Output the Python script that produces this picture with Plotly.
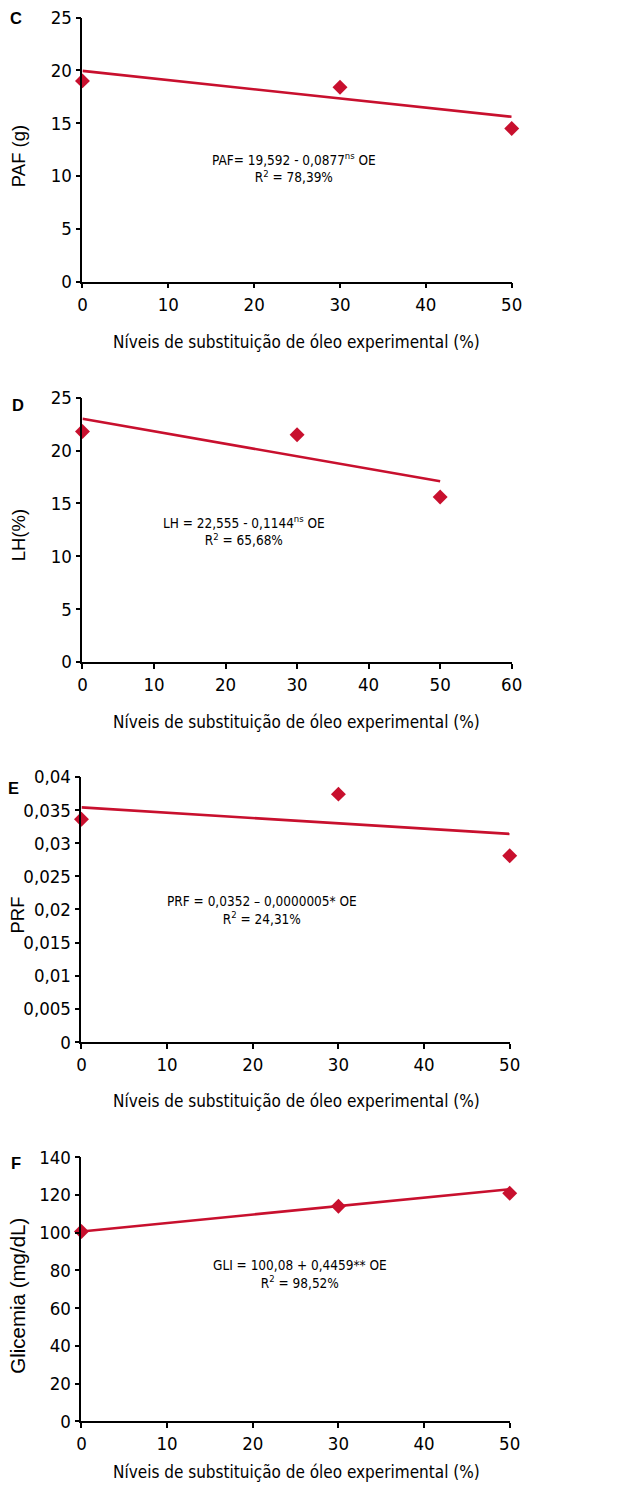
import plotly.graph_objects as go

W, H = 622, 1492

# ---------------- data ----------------
oe_levels = [0, 30, 50]
xtitle = "Níveis de substituição de óleo experimental (%)"

paf_values = [19.0, 18.4, 14.5]
paf_fit_x = [0, 50]
paf_fit_y = [19.95, 15.6]

lh_values = [21.8, 21.5, 15.6]
lh_fit_x = [0, 50]
lh_fit_y = [23.0, 17.1]

prf_values = [0.0336, 0.0374, 0.0281]
prf_fit_x = [0, 50]
prf_fit_y = [0.0354, 0.0314]

gli_values = [100.6, 113.9, 120.8]
gli_fit_x = [0, 50]
gli_fit_y = [100.6, 123.0]

prf_ticks = [0, 0.005, 0.01, 0.015, 0.02, 0.025, 0.03, 0.035, 0.04]
prf_ticktext = ["0", "0,005", "0,01", "0,015", "0,02", "0,025", "0,03", "0,035", "0,04"]

RED = "#C8102E"
FONT = "DejaVu Sans Condensed, Liberation Sans Narrow, Arial Narrow, sans-serif"
FONT2 = "Liberation Sans, Arial, sans-serif"

# target positions (pixels in the picture)
panels = [
    dict(letter="C", ytitle="PAF (g)", ys=18.5, y=paf_values, fx=paf_fit_x, fy=paf_fit_y,
         xr=[0, 50], xd=10, yr=[0, 25], yd=5, px=(82, 512), py=(18, 282),
         eq="PAF= 19,592 - 0,0877<sup>ns</sup> OE<br>R<sup>2</sup> = 78,39%", eqx=294, eqy=168,
         lx=15, ly=18, ytx=18, yty=157, xty=342),
    dict(letter="D", ytitle="LH(%)", ys=18.5, y=lh_values, fx=lh_fit_x, fy=lh_fit_y,
         xr=[0, 60], xd=10, yr=[0, 25], yd=5, px=(82, 512), py=(398, 662),
         eq="LH = 22,555 - 0,1144<sup>ns</sup> OE<br>R<sup>2</sup> = 65,68%", eqx=244, eqy=531,
         lx=17, ly=405, ytx=18, yty=536, xty=722),
    dict(letter="E", ytitle="PRF", ys=18.5, y=prf_values, fx=prf_fit_x, fy=prf_fit_y,
         xr=[0, 50], xd=10, yr=[0, 0.04], yd=0.005, px=(81, 510), py=(777, 1042),
         eq="PRF = 0,0352 – 0,0000005* OE<br>R<sup>2</sup> = 24,31%", eqx=262, eqy=910,
         lx=13, ly=788, ytx=17, yty=915, xty=1101),
    dict(letter="F", ytitle="Glicemia (mg/dL)", ys=20.5, y=gli_values, fx=gli_fit_x, fy=gli_fit_y,
         xr=[0, 50], xd=10, yr=[0, 140], yd=20, px=(81, 510), py=(1157, 1421),
         eq="GLI = 100,08 + 0,4459** OE<br>R<sup>2</sup> = 98,52%", eqx=300, eqy=1274,
         lx=15, ly=1163, ytx=17, yty=1296, xty=1478),
]

# observed mapping page -> picture: sx = 0.976*px + 4.4 ; sy = 0.9854*py + 11.5
AX, BX = 0.976, 4.4
AY, BY = 0.9854, 11.5
LOWEST = 1 - 1481.5 / H  # keep the bottom title inside the page

def fx_(sx):
    return ((sx - BX) / AX) / W

def fy_(sy):
    p = (sy - BY) / AY
    return 1 - p / H

fig = go.Figure()
annotations = []
layout = {}

for i, p in enumerate(panels, start=1):
    xa = "x" if i == 1 else f"x{i}"
    ya = "y" if i == 1 else f"y{i}"
    fig.add_trace(go.Scatter(x=p["fx"], y=p["fy"], mode="lines",
                             line=dict(color=RED, width=2.6), xaxis=xa, yaxis=ya,
                             showlegend=False, cliponaxis=False, hoverinfo="skip"))
    fig.add_trace(go.Scatter(x=oe_levels, y=p["y"], mode="markers",
                             marker=dict(symbol="diamond", size=11.5, color=RED),
                             xaxis=xa, yaxis=ya, showlegend=False, cliponaxis=False))
    xk = "xaxis" if i == 1 else f"xaxis{i}"
    yk = "yaxis" if i == 1 else f"yaxis{i}"
    axis_common = dict(showline=True, linecolor="black", linewidth=1.6, ticks="outside",
                       ticklen=5, tickwidth=1.6, tickcolor="black", showgrid=False,
                       zeroline=False, tickfont=dict(family=FONT, size=18.5, color="black"))
    layout[xk] = dict(domain=[fx_(p["px"][0]), fx_(p["px"][1])], range=p["xr"],
                      tickmode="linear", tick0=0, dtick=p["xd"], anchor=ya, **axis_common)
    yax = dict(domain=[fy_(p["py"][1]), fy_(p["py"][0])], range=p["yr"],
               anchor=xa, **axis_common)
    if p["letter"] == "E":
        yax.update(tickmode="array", tickvals=prf_ticks, ticktext=prf_ticktext)
    else:
        yax.update(tickmode="linear", tick0=0, dtick=p["yd"])
    layout[yk] = yax

    annotations.append(dict(text=f"<b>{p['letter']}</b>", x=fx_(p["lx"]), y=fy_(p["ly"]),
                            xref="paper", yref="paper", showarrow=False,
                            xanchor="center", yanchor="middle",
                            font=dict(family=FONT2, size=16.5, color="black")))
    annotations.append(dict(text=p["ytitle"], x=fx_(p["ytx"]), y=fy_(p["yty"]), textangle=-90,
                            xref="paper", yref="paper", showarrow=False,
                            xanchor="center", yanchor="middle",
                            font=dict(family=FONT2, size=p["ys"], color="black")))
    annotations.append(dict(text=xtitle, x=fx_(296), y=max(fy_(p["xty"]), LOWEST),
                            xref="paper", yref="paper", showarrow=False,
                            xanchor="center", yanchor="middle",
                            font=dict(family=FONT, size=17, color="black")))
    annotations.append(dict(text=p["eq"], x=fx_(p["eqx"]), y=fy_(p["eqy"]),
                            xref="paper", yref="paper", showarrow=False, align="center",
                            xanchor="center", yanchor="middle",
                            font=dict(family=FONT, size=13.5, color="black")))

fig.update_layout(width=W, height=H, margin=dict(l=0, r=0, t=0, b=0),
                  plot_bgcolor="white", paper_bgcolor="white",
                  annotations=annotations, separators=",.", **layout)

fig.write_html("out.html", config={"displayModeBar": False},
               post_script="document.body.style.margin='0';document.body.style.overflow='hidden';")
